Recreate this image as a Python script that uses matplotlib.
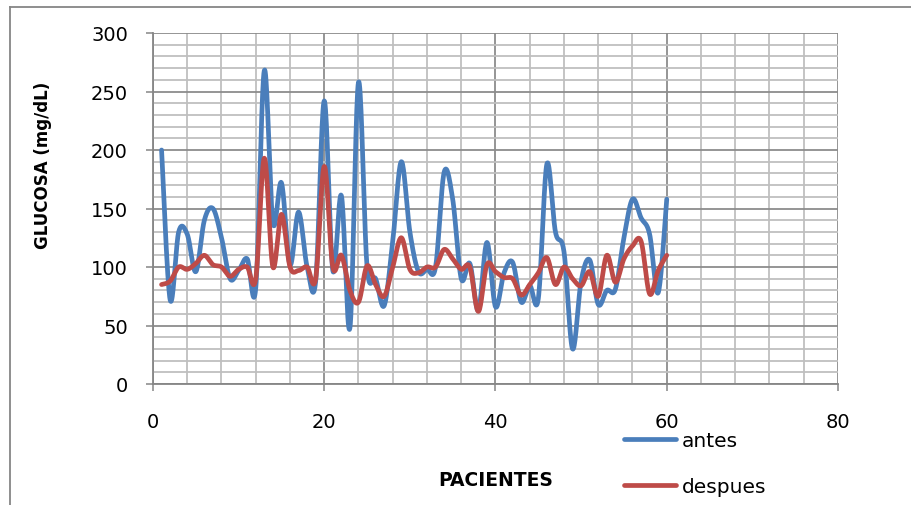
import numpy as np
import matplotlib
matplotlib.use("Agg")
import matplotlib.pyplot as plt
from matplotlib.lines import Line2D

# datos (pacientes 1..60)
pacientes = np.arange(1, 61)
antes = [200, 72, 130, 128, 96, 140, 150, 125, 90, 97,
         107, 82, 268, 138, 172, 102, 147, 100, 88, 242,
         97, 161, 48, 258, 100, 90, 67, 122, 190, 130,
         96, 98, 100, 181, 158, 90, 103, 63, 121, 66,
         95, 104, 70, 84, 73, 188, 130, 113, 30, 88,
         106, 68, 80, 81, 125, 158, 142, 128, 78, 158]
despues = [85, 88, 100, 98, 103, 110, 102, 100, 92, 98,
           100, 90, 193, 100, 145, 100, 97, 100, 90, 186,
           100, 110, 80, 70, 101, 85, 75, 100, 125, 98,
           95, 100, 100, 115, 107, 98, 100, 62, 102, 96,
           91, 90, 76, 85, 95, 108, 85, 100, 90, 84,
           96, 75, 110, 87, 107, 118, 122, 77, 97, 110]

C_ANTES = '#4A7EBB'
C_DESPUES = '#BE4B48'


def suavizar(x, y, n=20):
    # curva tipo Excel (Catmull-Rom) entre los puntos
    x = np.asarray(x, float)
    y = np.asarray(y, float)
    px = np.concatenate([[x[0]], x, [x[-1]]])
    py = np.concatenate([[y[0]], y, [y[-1]]])
    t = np.linspace(0, 1, n, endpoint=False)
    xs, ys = [], []
    for i in range(1, len(px) - 2):
        for P, out in ((px, xs), (py, ys)):
            p0, p1, p2, p3 = P[i - 1], P[i], P[i + 1], P[i + 2]
            c1 = p1 + (p2 - p0) / 6
            c2 = p2 - (p3 - p1) / 6
            out.extend((1 - t) ** 3 * p1 + 3 * (1 - t) ** 2 * t * c1
                       + 3 * (1 - t) * t ** 2 * c2 + t ** 3 * p2)
    xs.append(x[-1])
    ys.append(y[-1])
    return np.array(xs), np.array(ys)


plt.rcParams['font.family'] = 'DejaVu Sans'

fig = plt.figure(figsize=(9.12, 5.06), dpi=100)
ax = fig.add_axes([153 / 912, 121 / 506, 685 / 912, 351 / 506])

ax.plot(*suavizar(pacientes, antes), color=C_ANTES, lw=3.4,
        solid_capstyle='round', solid_joinstyle='round', zorder=3)
ax.plot(*suavizar(pacientes, despues), color=C_DESPUES, lw=3.4,
        solid_capstyle='round', solid_joinstyle='round', zorder=4)

ax.set_xlim(0, 80)
ax.set_ylim(0, 300)
ax.set_xticks(np.arange(0, 81, 20))
ax.set_yticks(np.arange(0, 301, 50))
ax.set_xticks(np.arange(0, 81, 4), minor=True)
ax.set_yticks(np.arange(0, 301, 10), minor=True)

ax.grid(True, which='minor', color='#BFBFBF', lw=1.3, zorder=0)
ax.grid(True, which='major', color='#8C8C8C', lw=1.3, zorder=1)
ax.set_axisbelow(True)

for s in ('top', 'right'):
    ax.spines[s].set_visible(False)
for s in ('left', 'bottom'):
    ax.spines[s].set_color('#868686')
    ax.spines[s].set_linewidth(1.3)

ax.tick_params(which='major', direction='out', length=5, width=1.1,
               color='#868686', labelsize=14)
ax.tick_params(axis='y', which='major', pad=13)
ax.tick_params(axis='x', which='major', pad=15)
ax.tick_params(which='minor', length=0)

ax.set_ylabel('GLUCOSA (mg/dL)', fontsize=12, fontweight='bold')
ax.yaxis.set_label_coords(-0.148, 0.625)
ax.set_xlabel('PACIENTES', fontsize=13.5, fontweight='bold', labelpad=28)

handles = [Line2D([], [], color=C_ANTES, lw=3.4, solid_capstyle='round'),
           Line2D([], [], color=C_DESPUES, lw=3.4, solid_capstyle='round')]
fig.legend(handles, ['antes', 'despues'], loc='upper left',
           bbox_to_anchor=(616 / 912, 1 - 424 / 506), frameon=False,
           fontsize=14.5, handlelength=2.6, handletextpad=0.25,
           labelspacing=1.35, borderaxespad=0)

# marco exterior del grafico
fig.add_artist(Line2D([10 / 912, 10 / 912], [0, 1 - 8 / 506],
                      transform=fig.transFigure, color='#868686', lw=1.3))
fig.add_artist(Line2D([10 / 912, 1], [1 - 8 / 506, 1 - 8 / 506],
                      transform=fig.transFigure, color='#868686', lw=1.3))

fig.savefig('out.png', dpi=100)
